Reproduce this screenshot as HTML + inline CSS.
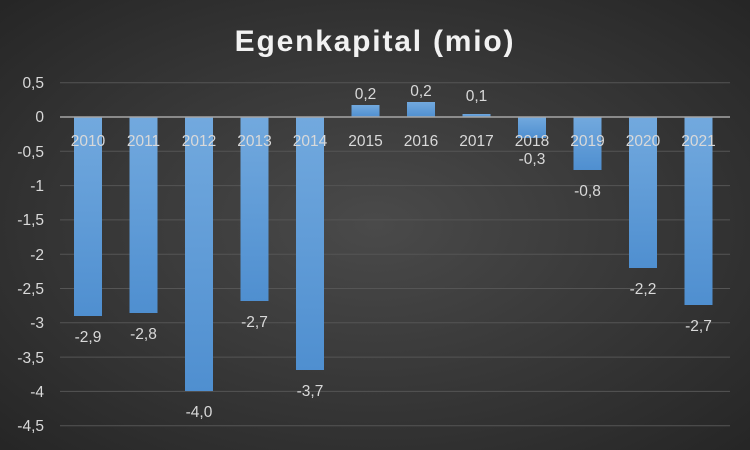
<!DOCTYPE html><html><head><style>body{margin:0}svg{display:block}</style></head><body>
<svg width="750" height="450" xmlns="http://www.w3.org/2000/svg" font-family="Liberation Sans, sans-serif">
<defs>
<radialGradient id="bg" cx="50%" cy="50%" r="70%"><stop offset="0" stop-color="#4a4a4a"/><stop offset="1" stop-color="#262626"/></radialGradient>
<linearGradient id="bar" x1="0" y1="0" x2="0" y2="1"><stop offset="0" stop-color="#72a9de"/><stop offset="1" stop-color="#4f8fd0"/></linearGradient>
</defs>
<rect width="750" height="450" fill="url(#bg)"/>
<text x="375" y="51" text-anchor="middle" font-size="30" font-weight="bold" fill="#f2f2f2" letter-spacing="1.8">Egenkapital (mio)</text>
<g stroke="#555" stroke-width="1">
<line x1="60" x2="730" y1="82.7" y2="82.7"/><line x1="60" x2="730" y1="151.3" y2="151.3"/><line x1="60" x2="730" y1="185.6" y2="185.6"/><line x1="60" x2="730" y1="219.9" y2="219.9"/><line x1="60" x2="730" y1="254.2" y2="254.2"/><line x1="60" x2="730" y1="288.5" y2="288.5"/><line x1="60" x2="730" y1="322.8" y2="322.8"/><line x1="60" x2="730" y1="357.1" y2="357.1"/><line x1="60" x2="730" y1="391.4" y2="391.4"/><line x1="60" x2="730" y1="425.7" y2="425.7"/>
</g>
<g fill="#d9d9d9" font-size="15.5" text-anchor="end">
<text x="44" y="88">0,5</text><text x="44" y="122">0</text><text x="44" y="157">-0,5</text><text x="44" y="191">-1</text><text x="44" y="225">-1,5</text><text x="44" y="260">-2</text><text x="44" y="294">-2,5</text><text x="44" y="328">-3</text><text x="44" y="363">-3,5</text><text x="44" y="397">-4</text><text x="44" y="431">-4,5</text>
</g>
<g fill="url(#bar)">
<rect x="74" y="117" width="28" height="199"/>
<rect x="129.5" y="117" width="28" height="196"/>
<rect x="185" y="117" width="28" height="274"/>
<rect x="240.5" y="117" width="28" height="184"/>
<rect x="296" y="117" width="28" height="253"/>
<rect x="351.5" y="105" width="28" height="12"/>
<rect x="407" y="102" width="28" height="15"/>
<rect x="462.5" y="114" width="28" height="3"/>
<rect x="518" y="117" width="28" height="21"/>
<rect x="573.5" y="117" width="28" height="53"/>
<rect x="629" y="117" width="28" height="151"/>
<rect x="684.5" y="117" width="28" height="188"/>
</g>
<line x1="60" x2="730" y1="117" y2="117" stroke="#a6a6a6" stroke-width="1.5"/>
<g fill="#d9d9d9" font-size="15.5" text-anchor="middle">
<text x="88" y="146">2010</text><text x="143.5" y="146">2011</text><text x="199" y="146">2012</text><text x="254.5" y="146">2013</text><text x="310" y="146">2014</text><text x="365.5" y="146">2015</text><text x="421" y="146">2016</text><text x="476.5" y="146">2017</text><text x="532" y="146">2018</text><text x="587.5" y="146">2019</text><text x="643" y="146">2020</text><text x="698.5" y="146">2021</text>
<text x="88" y="342">-2,9</text><text x="143.5" y="339">-2,8</text><text x="199" y="417">-4,0</text><text x="254.5" y="327">-2,7</text><text x="310" y="396">-3,7</text>
<text x="365.5" y="99">0,2</text><text x="421" y="96">0,2</text><text x="476.5" y="101">0,1</text>
<text x="532" y="164">-0,3</text><text x="587.5" y="196">-0,8</text><text x="643" y="294">-2,2</text><text x="698.5" y="331">-2,7</text>
</g>
</svg>
</body></html>
